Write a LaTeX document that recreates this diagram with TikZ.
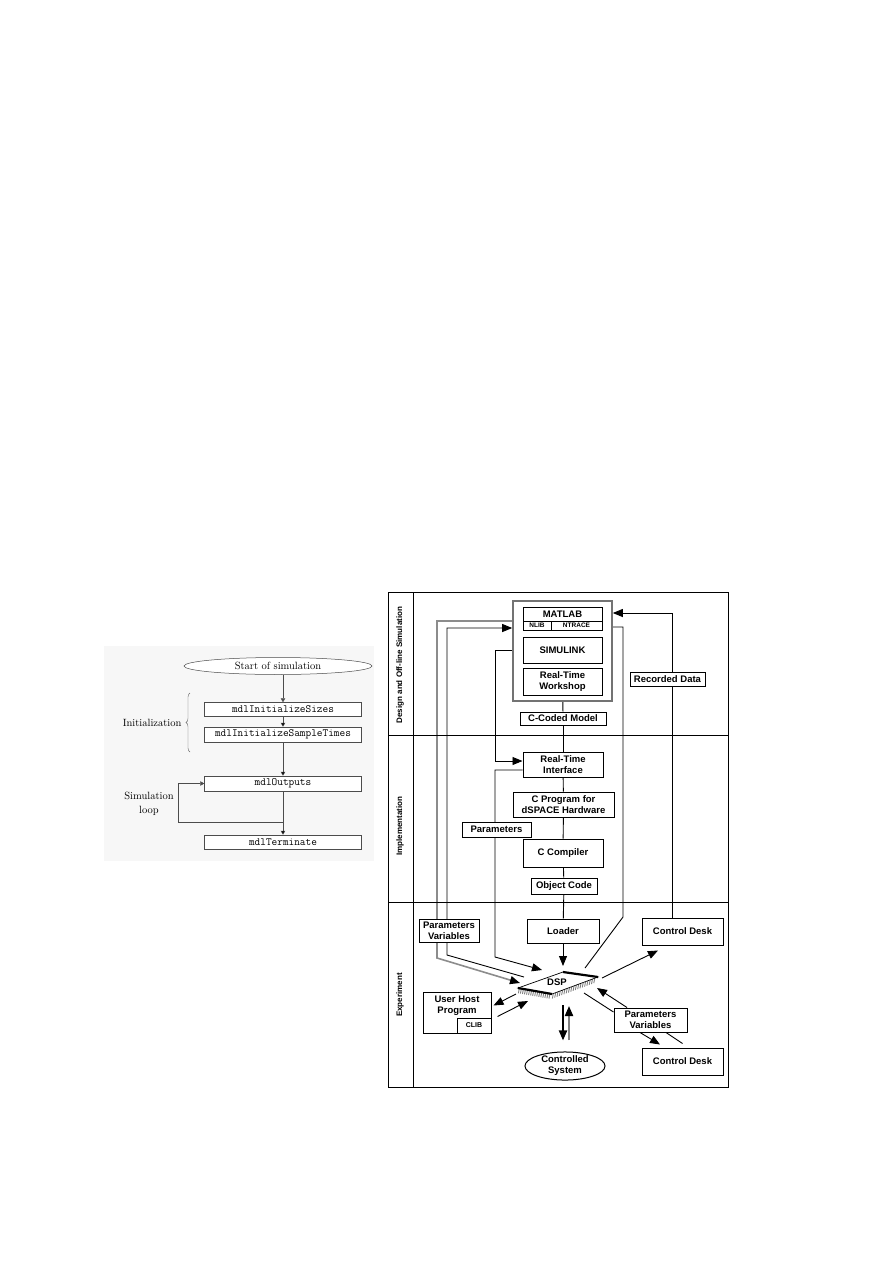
\documentclass[tikz,border=0pt]{standalone}
\usepackage{fontspec}
\newfontfamily\hvfont{Liberation Sans}
\usetikzlibrary{
    positioning,
    arrows.meta,
    shapes.geometric,
    decorations.pathreplacing,
    backgrounds,
    calc
}
\tikzset{
    >=Stealth,
    paso/.style={
        draw=black!70,
        line width=0.5pt,
        fill=white,
        minimum width=157pt,
        minimum height=14pt,
        inner sep=0pt,
        font=\fontsize{11}{12}\selectfont\ttfamily
    },
    flecha/.style={
        draw=black!70,
        line width=0.5pt,
        -{Triangle[length=4pt,width=4.5pt]}
    },
    bloque/.style={
        draw,
        line width=1pt,
        fill=white,
        inner sep=0pt,
        align=center,
        font=\hvfont\bfseries\fontsize{9.5}{11}\selectfont
    },
    texto/.style={
        inner sep=0pt,
        align=center,
        font=\hvfont\bfseries\fontsize{9.5}{11}\selectfont
    },
    seccion/.style={
        rotate=90,
        font=\hvfont\bfseries\fontsize{8}{9}\selectfont
    },
    linea/.style={line width=0.9pt},
    punta/.style={-{Triangle[length=10pt,width=8pt]}}
}

\begin{document}
\begin{tikzpicture}[x=1pt, y=-1pt]

    \useasboundingbox (0,0) rectangle (893,1263);

    % Fondo del esquema de la izquierda
    \fill[black!3] (104,646) rectangle (374,861);

    % Estados del bucle de simulacion
    \node[ellipse, draw=black!70, line width=0.5pt, fill=white,
          minimum width=188pt, minimum height=17pt, inner sep=0pt,
          font=\fontsize{10.5}{12}\selectfont]
                            (ini)  at (278,666)   {Start of simulation};
    \node[paso]             (isz)  at (283,709.5) {mdlInitializeSizes};
    \node[paso, minimum height=15pt]
                            (ist)  at (283,734.5) {mdlInitializeSampleTimes};
    \node[paso, minimum height=15pt]
                            (outp) at (283,783.5) {mdlOutputs};
    \node[paso]             (term) at (283,842)   {mdlTerminate};

    % Transiciones
    \draw[flecha] (isz.north |- ini.south) -- (isz.north);
    \path[flecha]
        (isz)  edge (ist)
        (ist)  edge (outp)
        (outp) edge (term);
    \coordinate (lazo) at (283,822);
    \draw[flecha] (lazo) -| ([xshift=-26pt]outp.west) -- (outp.west);

    % Llave y rotulos
    \draw[decorate, decoration={brace, amplitude=4pt},
          draw=black!60, line width=0.4pt]
        (190,752) -- (190,693)
        node[midway, left=5pt, font=\fontsize{10.5}{12}\selectfont]
            (inic) {Initialization};
    \node[align=center, font=\fontsize{10.5}{14}\selectfont]
        (simlz) at (149,804) {Simulation\\loop};

    % Marco del esquema dSPACE
    \draw[line width=1pt] (388,592) rectangle (728,1087);
    \draw[line width=1pt] (413,592) -- (413,1087);
    \draw[line width=1pt] (388,735) -- (728,735);
    \draw[line width=1pt] (388,902) -- (728,902);

    \node[seccion] (s1) at (400,665) {Design and Off-line Simulation};
    \node[seccion] (s2) at (400,826) {Implementation};
    \node[seccion] (s3) at (400,995) {Experiment};

    % Bloques de diseno
    \node[draw=black!55, line width=1.6pt, fill=white,
          minimum width=99pt, minimum height=100pt] (grp) at (562.5,651) {};
    \node[bloque, minimum width=79pt, minimum height=14pt]
        (mat) at (562.5,614) {MATLAB};
    \node[bloque, minimum width=28pt, minimum height=9pt,
          font=\hvfont\bfseries\fontsize{6.5}{7}\selectfont]
        (mlib) at (537,625.5) {NLIB};
    \node[bloque, minimum width=51pt, minimum height=9pt,
          font=\hvfont\bfseries\fontsize{6.5}{7}\selectfont]
        (mtr) at (576.5,625.5) {NTRACE};
    \node[bloque, minimum width=79pt, minimum height=26pt]
        (simu) at (562.5,650) {SIMULINK};
    \node[bloque, minimum width=79pt, minimum height=27pt]
        (rtw) at (562.5,681.5) {Real-Time\\Workshop};
    \node[bloque, minimum width=86pt, minimum height=13pt]
        (ccm) at (563,718.5) {C-Coded Model};
    \node[bloque, minimum width=75pt, minimum height=14pt]
        (rec) at (667.5,679.5) {Recorded Data};

    % Bloques de implementacion
    \node[bloque, minimum width=80pt, minimum height=25pt]
        (rti) at (563,764.5) {Real-Time\\Interface};
    \node[bloque, minimum width=101pt, minimum height=25pt]
        (cpr) at (563.5,804.5) {C Program for\\dSPACE Hardware};
    \node[bloque, minimum width=69pt, minimum height=15pt]
        (par) at (496.5,829.5) {Parameters};
    \node[bloque, minimum width=80pt, minimum height=28pt]
        (cc) at (563,853) {C Compiler};
    \node[bloque, minimum width=66pt, minimum height=16pt]
        (obj) at (564,886) {Object Code};

    % Bloques del experimento
    \node[bloque, minimum width=72pt, minimum height=24pt]
        (ldr) at (563,931) {Loader};
    \node[bloque, minimum width=60pt, minimum height=23pt]
        (pv1) at (449,931) {Parameters\\Variables};
    \node[bloque, minimum width=68pt, minimum height=41pt]
        (uhp) at (457,1012.5) {};
    \node[texto, below=4pt of uhp.north] (uhpt) {User Host\\Program};
    \node[bloque, anchor=south east, minimum width=34pt, minimum height=15pt,
          font=\hvfont\bfseries\fontsize{7}{8}\selectfont]
        (clib) at (uhp.south east) {CLIB};
    \node[bloque, ellipse, minimum width=80pt, minimum height=28pt]
        (cs) at (565,1066) {Controlled\\System};
    \node[bloque, minimum width=81pt, minimum height=27pt]
        (cda) at (682.5,931.5) {Control Desk};
    \node[bloque, minimum width=73pt, minimum height=24pt]
        (pv2) at (650.5,1020) {Parameters\\Variables};
    \node[bloque, minimum width=81pt, minimum height=27pt]
        (cdb) at (682.5,1061.5) {Control Desk};

    % Chip DSP
    \coordinate (dl) at (518,988);
    \coordinate (dt) at (563,972);
    \coordinate (dr) at (598,977);
    \coordinate (db) at (552,994);
    \foreach \t in {0.04,0.1,...,0.97}
        \draw[black!50, line width=0.9pt] ($(dl)!\t!(db)$) -- ++(-1,5);
    \foreach \t in {0.03,0.08,...,0.97}
        \draw[black!50, line width=0.9pt] ($(db)!\t!(dr)$) -- ++(-1,5);
    \draw[line width=0.7pt, fill=white] (dl) -- (dt) -- (dr) -- (db) -- cycle;
    \draw[line width=2.2pt] (dt) -- (dr);
    \draw[line width=2.2pt] (dl) -- (db);
    \node[texto] (dsp) at (557,982) {DSP};

    % Puntos de conexion del chip
    \coordinate (dA) at (520,983);
    \coordinate (dB) at (524,977);
    \coordinate (dC) at (542,970);
    \coordinate (dD) at (563,966);
    \coordinate (dE) at (585,968);
    \coordinate (dF) at (602,978);
    \coordinate (dG) at (597,988);
    \coordinate (dH) at (584,993);
    \coordinate (dI) at (516,994);
    \coordinate (dJ) at (528,1001);
    \coordinate (dK) at (563,1005);
    \coordinate (dL) at (569,1006);

    % Conexiones
    \begin{scope}[on background layer]

        % Columna central
        \draw[linea] (grp) -- (ccm);
        \draw[linea] (ccm) -- (rti);
        \draw[linea] (rti) -- (cpr);
        \draw[linea] (cpr) -- (cc);
        \draw[linea] (cc) -- (obj);
        \draw[linea] (obj) -- (ldr);
        \draw[linea, punta] (ldr) -- (dD);

        % MATLAB <-> DSP
        \draw[draw=black!45, line width=1.6pt,
              -{Triangle[length=10pt,width=8pt,color=black]}]
            ([yshift=30pt]grp.west) -| (437,958) -- (dA);
        \draw[linea, punta]
            (dB) -- (447,955) |- ([yshift=23pt]grp.west);

        % SIMULINK -> Real-Time Interface -> DSP
        \draw[linea, punta]
            ([yshift=1pt]grp.west) -| (495,761) -- ([yshift=3.5pt]rti.west);
        \draw[linea, punta]
            ([yshift=-5.5pt]rti.west) -| (495,957) -- (dC);

        % DSP -> MATLAB (derecha)
        \draw[linea] ([yshift=24pt]grp.east) -| (623,917) -- (dE);
        \draw[linea, punta]
            ([xshift=-10.5pt]cda.north) |- ([yshift=38pt]grp.east);

        % Control Desk y parametros
        \draw[linea, punta] (dF) -- ([xshift=-24.5pt,yshift=-5pt]cda.south);
        \draw[linea, punta] ([xshift=-23.5pt]pv2.north) -- (dG);
        \draw[linea] (dH) -- ([yshift=8pt]pv2.west);
        \draw[linea, punta]
            ([xshift=-10.5pt]pv2.south) -- ([xshift=-22.5pt,yshift=3pt]cdb.north);
        \draw[linea]
            ([yshift=4pt]cdb.north) -- ([xshift=15.5pt]pv2.south);

        % User Host Program
        \draw[linea, punta] (dI) -- ([xshift=2pt,yshift=-14pt]uhp.north east);
        \draw[linea, punta] ([xshift=6pt,yshift=-25pt]uhp.north east) -- (dJ);

        % Sistema controlado
        \draw[line width=2pt, punta] (dK) -- ([xshift=-2pt,yshift=11pt]cs.north);
        \draw[line width=2pt, draw=black!50,
              -{Triangle[length=10pt,width=8pt,color=black]}]
            ([xshift=4pt,yshift=11pt]cs.north) -- (dL);

    \end{scope}

\end{tikzpicture}
\end{document}
